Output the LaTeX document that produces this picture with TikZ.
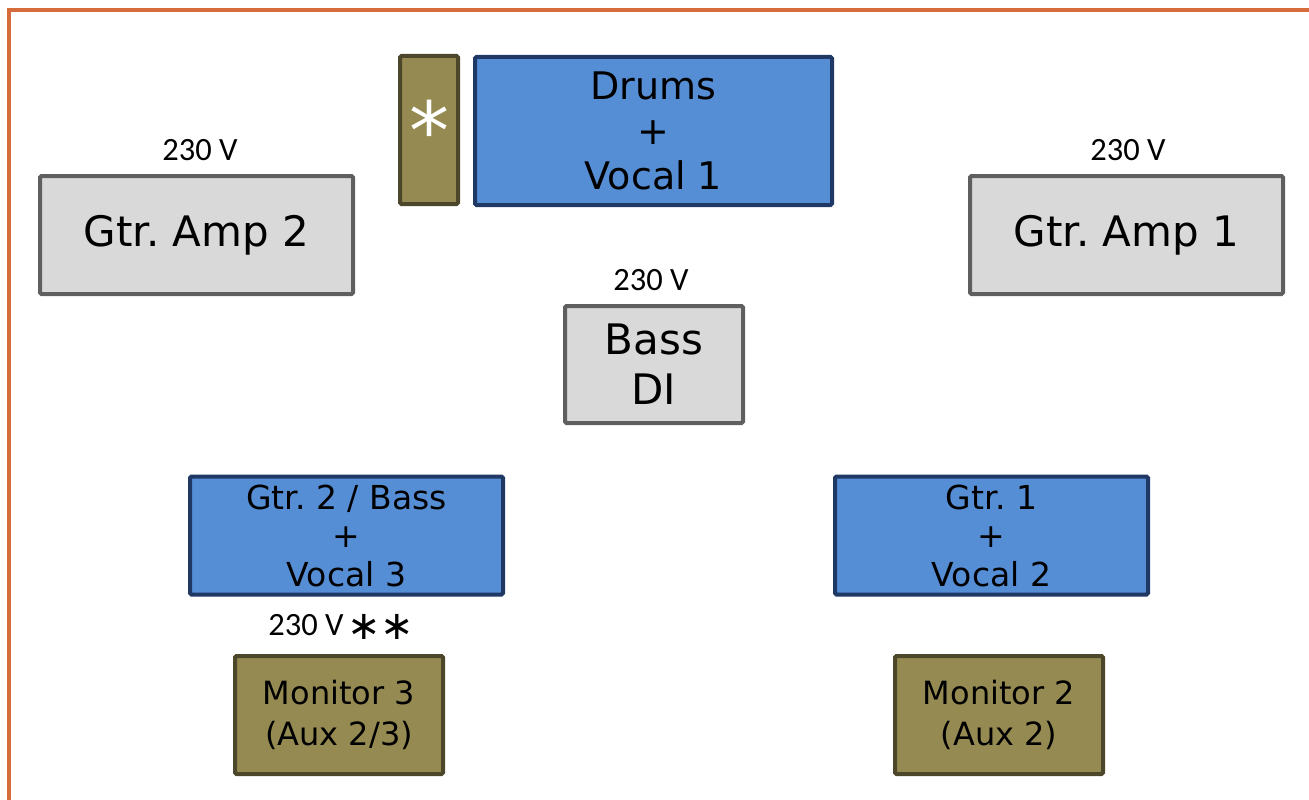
\documentclass[tikz,border=0pt]{standalone}
\usepackage{fontspec}
\setmainfont{DejaVu Sans}
\newfontfamily\voltfont{Carlito}
\usepackage{tikz}
\frenchspacing

\definecolor{stageline}{RGB}{214,108,60}
\definecolor{mixblue}{RGB}{85,142,213}
\definecolor{mixborder}{RGB}{31,56,100}
\definecolor{ampgray}{RGB}{217,217,217}
\definecolor{ampborder}{RGB}{95,95,95}
\definecolor{monolive}{RGB}{149,139,82}
\definecolor{monborder}{RGB}{76,70,42}

\begin{document}
\begin{tikzpicture}[x=1pt,y=-1pt,
  mic node/.style={rectangle,rounded corners=1.5pt,line width=4pt,draw=mixborder,fill=mixblue,
    inner sep=0pt,minimum width=313pt,minimum height=118pt,align=center,
    font=\fontsize{33}{38.5}\selectfont},
  amp node/.style={rectangle,rounded corners=1.5pt,line width=4pt,draw=ampborder,fill=ampgray,
    inner sep=0pt,minimum width=313pt,minimum height=118pt,align=center,
    font=\fontsize{42}{50}\selectfont},
  mon node/.style={rectangle,rounded corners=1.5pt,line width=4pt,draw=monborder,fill=monolive,
    inner sep=0pt,minimum width=208pt,minimum height=118pt,align=center,
    font=\fontsize{32}{41}\selectfont},
  volt node/.style={inner sep=0pt,font=\voltfont\fontsize{32.5}{36}\selectfont}]
  \useasboundingbox (0,0) rectangle (1309,800);

  % stage edge
  \draw[stageline,line width=4.5pt] (9,800) -- (9,10) -- (1309,10);

  \node[mon node,minimum width=58pt,minimum height=148pt,text=white,
    font=\fontsize{80}{80}\selectfont] (star) at (429,130) {\raisebox{-14pt}{*}};
  \node[mic node,minimum width=357pt,minimum height=148pt,
    font=\fontsize{38}{45}\selectfont] (drums) at (653.5,131) {Drums\\+\\Vocal 1};

  \node[amp node] (amp2) at (196.5,235) {Gtr. Amp 2};
  \node[amp node] (amp1) at (1126.5,235) {Gtr. Amp 1};
  \node[amp node,minimum width=178pt,minimum height=117pt] (bass) at (654,364.5) {Bass\\DI};

  \node[volt node] (v2) at (200,150) {230 V};
  \node[volt node] (v1) at (1128,150) {230 V};
  \node[volt node] (vb) at (651,280) {230 V};

  \node[mic node] (gtr2) at (346.5,535.5) {Gtr. 2 / Bass\\+\\Vocal 3};
  \node[mic node] (gtr1) at (991.5,535.5) {Gtr. 1\\+\\Vocal 2};

  \node[volt node] (v3) at (306,625) {230 V};
  \node[inner sep=0pt,font=\fontsize{40}{40}\selectfont,anchor=west] (stars) at (347,627) {∗∗};

  \node[mon node] (mon3) at (339,715) {Monitor 3\\(Aux 2/3)};
  \node[mon node] (mon2) at (999,715) {Monitor 2\\(Aux 2)};
\end{tikzpicture}
\end{document}
